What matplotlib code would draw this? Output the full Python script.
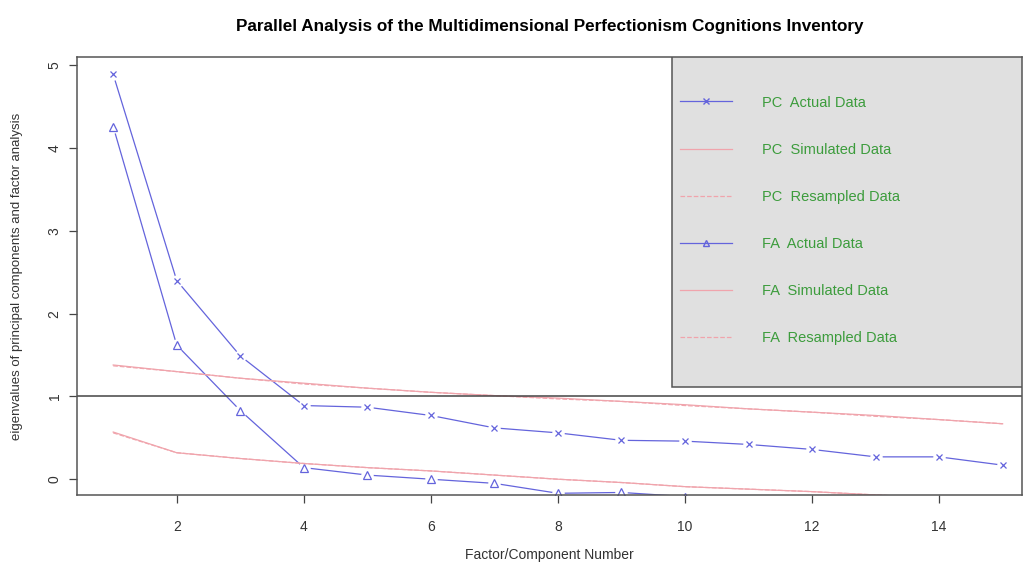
import numpy as np
import matplotlib.pyplot as plt
from matplotlib.lines import Line2D
from matplotlib.patches import Rectangle

plt.rcParams['font.family'] = ['Liberation Sans', 'DejaVu Sans']

# Eigenwerte je Faktor/Komponente
factors = np.arange(1, 16)
pc_actual = [4.89, 2.40, 1.49, 0.89, 0.87, 0.77, 0.62, 0.56, 0.47, 0.46, 0.42, 0.36, 0.27, 0.27, 0.17]
pc_simulated = [1.38, 1.30, 1.22, 1.16, 1.10, 1.05, 1.01, 0.98, 0.94, 0.90, 0.85, 0.81, 0.77, 0.72, 0.67]
pc_resampled = [1.37, 1.30, 1.22, 1.15, 1.10, 1.05, 1.01, 0.97, 0.94, 0.89, 0.85, 0.81, 0.76, 0.72, 0.67]
fa_actual = [4.26, 1.62, 0.83, 0.14, 0.05, 0.00, -0.05, -0.17, -0.16, -0.21, -0.25, -0.30, -0.33, -0.37, -0.42]
fa_simulated = [0.57, 0.32, 0.25, 0.19, 0.14, 0.10, 0.05, 0.00, -0.04, -0.09, -0.12, -0.15, -0.19, -0.23, -0.27]
fa_resampled = [0.56, 0.32, 0.25, 0.19, 0.14, 0.10, 0.05, 0.00, -0.04, -0.09, -0.12, -0.15, -0.19, -0.23, -0.27]

blue = '#6464dc'
pink = '#f0a4ac'
green = '#3c9c3c'

fig = plt.figure(figsize=(10.32, 5.65), dpi=100)
ax = fig.add_axes([0.0746, 0.124, 0.9154, 0.775])

# Linien mit Luecken um die Punkte (wie type="b")
for vals, mk, ms in [(pc_actual, 'x', 5), (fa_actual, '^', 6)]:
    ax.plot(factors, vals, color=blue, lw=0.9, zorder=2)
    ax.plot(factors, vals, ls='none', marker='o', ms=9, mfc='white', mec='none', zorder=2.1)
    ax.plot(factors, vals, ls='none', marker=mk, ms=ms, mfc='none', mec=blue, mew=0.9, zorder=2.2)

ax.plot(factors, pc_simulated, color=pink, lw=0.9, zorder=2.3)
ax.plot(factors, pc_resampled, color=pink, lw=0.9, ls='--', zorder=2.3)
ax.plot(factors, fa_simulated, color=pink, lw=0.9, zorder=2.3)
ax.plot(factors, fa_resampled, color=pink, lw=0.9, ls='--', zorder=2.3)
ax.axhline(1, color='#444444', lw=1.1, zorder=2.4)

ax.set_xlim(0.43, 15.3)
ax.set_ylim(-0.19, 5.10)
ax.set_xticks([2, 4, 6, 8, 10, 12, 14])
ax.set_yticks([0, 1, 2, 3, 4, 5])
ax.tick_params(colors='#444444', labelcolor='#333333', labelsize=10, length=6, width=0.9)
ax.tick_params(axis='x', pad=12)
ax.tick_params(axis='y', pad=5)
for lbl in ax.get_yticklabels():
    lbl.set_rotation(90)
    lbl.set_va('center')
for s in ax.spines.values():
    s.set_color('#555555')
    s.set_linewidth(1.1)

ax.set_title('Parallel Analysis of the Multidimensional Perfectionism Cognitions Inventory',
             fontsize=12.3, fontweight='bold', pad=19)
ax.set_xlabel('Factor/Component Number', fontsize=10, color='#333333', labelpad=10)
ax.set_ylabel('eigenvalues of principal components and factor analysis', fontsize=9.5,
              color='#333333', labelpad=18)

# Legendenkasten
ax.add_patch(Rectangle((0.630, 0.247), 0.37, 0.753, transform=ax.transAxes,
                       facecolor='#e0e0e0', edgecolor='#555555', lw=1.1, zorder=3))
handles = [
    Line2D([], [], color=blue, lw=0.9, marker='x', ms=4),
    Line2D([], [], color=pink, lw=0.9),
    Line2D([], [], color=pink, lw=0.9, ls='--'),
    Line2D([], [], color=blue, lw=0.9, marker='^', ms=5, mfc='none'),
    Line2D([], [], color=pink, lw=0.9),
    Line2D([], [], color=pink, lw=0.9, ls='--'),
]
labels = ['PC  Actual Data', 'PC  Simulated Data', 'PC  Resampled Data',
          'FA  Actual Data', 'FA  Simulated Data', 'FA  Resampled Data']
leg = ax.legend(handles, labels, loc='upper left', bbox_to_anchor=(0.638, 0.912),
                frameon=False, fontsize=10.5, labelcolor=green, handlelength=3.56,
                handletextpad=2.05, labelspacing=2.27, borderpad=0, borderaxespad=0,
                numpoints=1)
leg.set_zorder(4)

fig.savefig('out.png', dpi=100)
